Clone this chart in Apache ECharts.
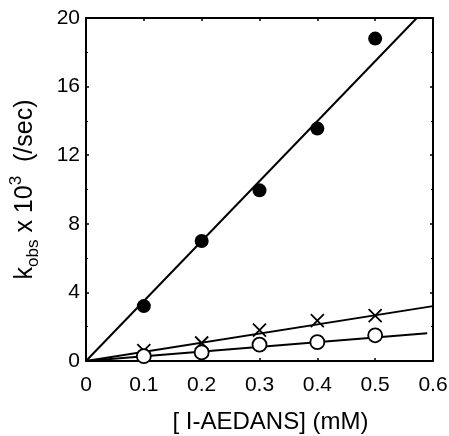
<!DOCTYPE html>
<html>
<head>
<meta charset="utf-8">
<script src="https://cdn.jsdelivr.net/npm/echarts@6/dist/echarts.min.js"></script>
<style>
html,body{margin:0;padding:0;background:#fff;}
#chart{width:449px;height:436px;}
</style>
</head>
<body>
<div id="chart"></div>
<script>
// Data
const concentrations = [0.1, 0.2, 0.3, 0.4, 0.5];
const filledValues = [3.2, 7.0, 9.95, 13.55, 18.8];
const crossValues = [0.6, 1.05, 1.8, 2.35, 2.65];
const openValues = [0.28, 0.5, 0.95, 1.1, 1.5];
// Fitted straight lines (start and end points)
const filledFit = [[0, 0], [0.572, 20]];
const crossFit = [[0, 0], [0.6, 3.2]];
const openFit = [[0, 0], [0.59, 1.62]];
const xTicks = [0, 0.1, 0.2, 0.3, 0.4, 0.5, 0.6];
const yTicks = [0, 4, 8, 12, 16, 20];

const pts = vals => concentrations.map((c, i) => [c, vals[i]]);
const FONT = 'Liberation Sans, Arial, Helvetica, sans-serif';

const chart = echarts.init(document.getElementById('chart'), null, {renderer: 'canvas'});
const axisLine = {show: true, onZero: false, lineStyle: {color: '#000', width: 2}};
const tick = {show: true, inside: true, length: 3, lineStyle: {color: '#000', width: 1.5}};

chart.setOption({
  animation: false,
  backgroundColor: '#fff',
  grid: {left: 86, right: 16, top: 18, bottom: 75, containLabel: false, outerBoundsMode: 'none'},
  xAxis: [{
    type: 'value', min: 0, max: 0.6, interval: 0.1,
    axisLine: axisLine, axisTick: tick, splitLine: {show: false},
    axisLabel: {
      color: '#000', fontSize: 21, fontFamily: FONT, margin: 14,
      formatter: v => { const t = xTicks.find(x => Math.abs(x - v) < 1e-9); return t === 0 ? '0' : String(t); }
    },
    name: '[ I-AEDANS] (mM)', nameLocation: 'middle', nameGap: 49,
    nameTextStyle: {color: '#000', fontSize: 24, fontFamily: FONT, padding: [0, 0, 0, 22]}
  }, {
    type: 'value', position: 'top', min: 0, max: 0.6, interval: 0.1,
    axisLine: axisLine, axisTick: tick, axisLabel: {show: false}, splitLine: {show: false}
  }],
  yAxis: [{
    type: 'value', min: 0, max: 20, interval: 4,
    axisLine: axisLine, axisTick: tick, splitLine: {show: false},
    minorTick: {show: true, splitNumber: 2, length: 2, lineStyle: {color: '#000'}},
    axisLabel: {
      color: '#000', fontSize: 21, fontFamily: FONT, margin: 6,
      formatter: v => String(yTicks.find(y => Math.abs(y - v) < 1e-9))
    },
    name: '{m|k}{sub|obs}{m| x 10}{sup|3}{m|  (/sec)}',
    nameLocation: 'middle', nameGap: 44, nameRotate: 90,
    nameTextStyle: {
      color: '#000', fontFamily: FONT,
      rich: {
        m: {fontSize: 25, fontFamily: FONT, color: '#000', lineHeight: 34, verticalAlign: 'middle'},
        sub: {fontSize: 17, fontFamily: FONT, color: '#000', lineHeight: 17, verticalAlign: 'bottom'},
        sup: {fontSize: 17, fontFamily: FONT, color: '#000', lineHeight: 17, verticalAlign: 'top'}
      }
    }
  }, {
    type: 'value', position: 'right', min: 0, max: 20, interval: 4,
    axisLine: axisLine, axisTick: tick, axisLabel: {show: false}, splitLine: {show: false},
    minorTick: {show: true, splitNumber: 2, length: 2, lineStyle: {color: '#000'}}
  }],
  series: [
    {type: 'line', data: filledFit, showSymbol: false, lineStyle: {color: '#000', width: 2}, z: 2},
    {type: 'line', data: crossFit, showSymbol: false, lineStyle: {color: '#000', width: 2}, z: 2},
    {type: 'line', data: openFit, showSymbol: false, lineStyle: {color: '#000', width: 2}, z: 2},
    {type: 'scatter', data: pts(filledValues), symbol: 'circle', symbolSize: 14,
      itemStyle: {color: '#000', opacity: 1}, z: 3},
    {type: 'scatter', data: pts(crossValues), symbol: 'path://M0,0L10,10M10,0L0,10', symbolSize: 13,
      itemStyle: {color: 'none', borderColor: '#000', borderWidth: 1.8, opacity: 1}, z: 3},
    {type: 'scatter', data: pts(openValues), symbol: 'circle', symbolSize: 14,
      itemStyle: {color: '#fff', borderColor: '#000', borderWidth: 1.8, opacity: 1}, z: 4}
  ]
});
</script>
</body>
</html>
